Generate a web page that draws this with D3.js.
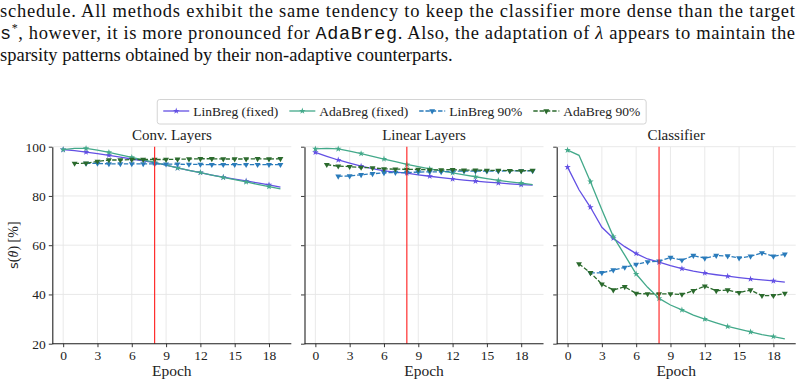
<!DOCTYPE html>
<html>
<head>
<meta charset="utf-8">
<script src="https://cdn.jsdelivr.net/npm/d3@7"></script>
<style>
  body { margin: 0; background: #fff; }
  svg { display: block; }
  text { font-family: "Liberation Serif", "Times New Roman", serif; fill: #222; }
  .tt { font-family: "Liberation Mono", "DejaVu Sans Mono", monospace; }
</style>
</head>
<body>
<svg id="page" width="805" height="385"></svg>
<script>
// paragraph lines above the figure
const paraLines = [
  [{ t: 'schedule. All methods exhibit the same tendency to keep the classifier more dense than the target' }],
  [{ t: 's', c: 'tt' }, { t: '*', sup: true }, { t: ', however, it is more pronounced for ' }, { t: 'AdaBreg', c: 'tt' },
   { t: '. Also, the adaptation of ' }, { t: 'λ', it: true }, { t: ' appears to maintain the' }],
  [{ t: 'sparsity patterns obtained by their non-adaptive counterparts.' }]
];

const epochs = d3.range(20);
const xTicks = [0, 3, 6, 9, 12, 15, 18];
const yTicks = [20, 40, 60, 80, 100];
const switchEpoch = 8;

const panelTitles = ['Conv. Layers', 'Linear Layers', 'Classifier'];
const seriesNames = ['LinBreg (fixed)', 'AdaBreg (fixed)', 'LinBreg 90%', 'AdaBreg 90%'];

// Conv. Layers
const convLinFixed = [98.8, 98.4, 97.8, 97.2, 96.5, 95.8, 95.0, 94.3, 93.5, 92.5, 91.4, 90.4, 89.5, 88.5, 87.6, 86.8, 86.1, 85.3, 84.5, 83.6];
const convAdaFixed = [98.8, 99.3, 99.3, 98.6, 97.7, 96.7, 95.7, 94.6, 93.6, 92.5, 91.4, 90.4, 89.5, 88.5, 87.5, 86.6, 85.7, 84.7, 83.8, 82.9];
const convLin90 = [null, null, 93.2, 93.2, 93.0, 93.0, 93.0, 93.0, 93.0, 92.9, 92.9, 92.8, 92.8, 92.7, 92.7, 92.7, 92.7, 92.7, 92.7, 92.7];
const convAda90 = [null, 93.2, 93.3, 94.0, 94.6, 94.6, 94.8, 94.8, 94.8, 94.8, 94.9, 95.0, 95.1, 95.1, 95.0, 95.0, 95.0, 95.1, 95.0, 95.1];

// Linear Layers
const linLinFixed = [97.7, 96.1, 94.6, 93.3, 92.1, 91.1, 90.2, 89.7, 89.3, 88.6, 88.0, 87.4, 86.9, 86.4, 86.0, 85.6, 85.3, 84.9, 84.6, 84.4];
const linAdaFixed = [99.1, 99.3, 99.1, 98.2, 97.2, 96.1, 95.0, 93.9, 92.8, 91.9, 91.0, 90.2, 89.4, 88.6, 87.8, 87.0, 86.3, 85.7, 85.2, 84.6];
const linLin90 = [null, null, 88.0, 88.1, 88.6, 89.0, 89.4, 89.5, 89.5, 89.7, 89.8, 89.8, 90.1, 90.1, 90.1, 90.1, 90.1, 90.2, 90.2, 90.2];
const linAda90 = [null, 92.7, 92.1, 91.9, 91.6, 91.4, 91.0, 90.9, 90.8, 90.8, 90.6, 90.6, 90.7, 90.5, 90.5, 90.4, 90.4, 90.3, 90.2, 90.4];

// Classifier
const clsLinFixed = [91.7, 82.5, 75.4, 67.3, 62.8, 59.4, 56.6, 54.4, 53.1, 51.7, 50.5, 49.5, 48.7, 48.0, 47.4, 46.8, 46.3, 45.9, 45.5, 45.0];
const clsAdaFixed = [98.6, 96.5, 85.8, 74.4, 63.5, 56.0, 48.3, 42.9, 38.4, 35.7, 33.7, 31.6, 30.0, 28.5, 27.0, 25.9, 24.8, 23.7, 22.9, 22.0];
const clsLin90 = [null, null, 48.8, 48.8, 49.9, 51.0, 52.2, 53.2, 53.5, 55.0, 53.9, 55.8, 54.7, 55.8, 55.6, 54.8, 55.5, 56.9, 55.5, 56.3];
const clsAda90 = [null, 52.4, 48.8, 44.2, 41.8, 43.1, 40.4, 40.2, 40.2, 40.2, 40.0, 41.5, 43.4, 41.5, 41.8, 40.7, 41.8, 39.5, 39.5, 40.4];

const panels = [
  [convLinFixed, convAdaFixed, convLin90, convAda90],
  [linLinFixed, linAdaFixed, linLin90, linAda90],
  [clsLinFixed, clsAdaFixed, clsLin90, clsAda90]
];

const styles = [
  { color: '#6350e4', dash: null, marker: 'star', every: 2 },
  { color: '#43a98a', dash: null, marker: 'star', every: 2 },
  { color: '#2a7bbb', dash: '4.4,1.9', marker: 'tri', every: 1 },
  { color: '#2b6a2d', dash: '4.4,1.9', marker: 'tri', every: 1 }
];

const svg = d3.select('#page');

// --- paragraph text
paraLines.forEach((line, i) => {
  const t = svg.append('text')
    .attr('x', 0)
    .attr('y', 16.5 + i * 22)
    .style('font-size', '18.5px')
    .style('fill', '#111');
  for (let part of line) {
    const ts = t.append('tspan').text(part.t);
    if (part.c) ts.attr('class', part.c);
    if (part.it) ts.style('font-style', 'italic');
    if (part.sup) ts.attr('dy', -7).style('font-size', '12px').attr('data-sup', 1);
  }
  // put baseline back after superscript
  t.selectAll('tspan').each(function (d, k, nodes) {
    if (k > 0 && nodes[k - 1].getAttribute('data-sup')) d3.select(this).attr('dy', 7);
  });
  if (i < 2) t.attr('textLength', 795).attr('lengthAdjust', 'spacing');
});

// --- figure geometry
const panelW = 239;
const plotTop = 146.7;
const plotBottom = 343.7;
const panelLeft = (i) => 52.3 + i * 252.2;

const y = d3.scaleLinear().domain([20, 100]).range([plotBottom, plotTop]);

function markerPath(kind) {
  if (kind === 'star') return d3.symbol().type(d3.symbolStar).size(13)();
  return d3.symbol().type(d3.symbolTriangle).size(15)();
}

panels.forEach((series, i) => {
  const left = panelLeft(i);
  const x = d3.scaleLinear().domain([-0.95, 19.95]).range([left, left + panelW]);
  const g = svg.append('g');

  // grid
  g.append('g').selectAll('line').data(xTicks).join('line')
    .attr('x1', d => x(d)).attr('x2', d => x(d))
    .attr('y1', plotTop).attr('y2', plotBottom)
    .attr('stroke', '#e6e6e6').attr('stroke-width', 0.9);
  g.append('g').selectAll('line').data(yTicks).join('line')
    .attr('x1', left).attr('x2', left + panelW)
    .attr('y1', d => y(d)).attr('y2', d => y(d))
    .attr('stroke', '#e6e6e6').attr('stroke-width', 0.9);

  // series
  series.forEach((vals, s) => {
    const st = styles[s];
    const pts = epochs.map(e => ({ e, v: vals[e] })).filter(d => d.v != null);
    const line = d3.line().x(d => x(d.e)).y(d => y(d.v));
    g.append('path')
      .datum(pts)
      .attr('d', line)
      .attr('fill', 'none')
      .attr('stroke', st.color)
      .attr('stroke-width', 1.3)
      .attr('stroke-dasharray', st.dash);
    g.append('g').selectAll('path')
      .data(pts.filter(d => d.e % st.every === 0))
      .join('path')
      .attr('d', markerPath(st.marker))
      .attr('transform', d => `translate(${x(d.e)},${y(d.v)})` + (st.marker === 'tri' ? ' rotate(180)' : ''))
      .attr('fill', st.color);
  });

  // switch epoch
  g.append('line')
    .attr('x1', x(switchEpoch)).attr('x2', x(switchEpoch))
    .attr('y1', plotTop).attr('y2', plotBottom)
    .attr('stroke', '#ff1a1a').attr('stroke-width', 1.1);

  // axes
  const xAxis = d3.axisBottom(x).tickValues(xTicks).tickSize(3.5).tickSizeOuter(0).tickPadding(3);
  const yAxis = d3.axisLeft(y).tickValues(yTicks).tickSize(3.5).tickSizeOuter(0).tickPadding(3)
    .tickFormat(i === 0 ? d3.format('d') : () => '');

  const gx = g.append('g').attr('transform', `translate(0,${plotBottom})`).call(xAxis);
  gx.select('.domain').attr('d', `M${left},0H${left + panelW}`);
  const gy = g.append('g').attr('transform', `translate(${left},0)`).call(yAxis);
  for (let ax of [gx, gy]) {
    ax.select('.domain').attr('stroke', '#222').attr('stroke-width', 1.1);
    ax.selectAll('.tick line').attr('stroke', '#222').attr('stroke-width', 0.9);
    ax.selectAll('.tick text')
      .style('font-family', '"Liberation Serif", serif')
      .style('font-size', '13.5px')
      .attr('fill', '#222');
  }

  // title and x label
  g.append('text')
    .attr('x', left + panelW / 2).attr('y', 140)
    .attr('text-anchor', 'middle')
    .style('font-size', '15px')
    .text(panelTitles[i]);
  g.append('text')
    .attr('x', left + panelW / 2).attr('y', 376)
    .attr('text-anchor', 'middle')
    .style('font-size', '15.5px')
    .text('Epoch');
});

// y label
const yl = svg.append('text')
  .attr('transform', `translate(18,${(plotTop + plotBottom) / 2}) rotate(-90)`)
  .attr('text-anchor', 'middle')
  .style('font-size', '14px');
yl.append('tspan').style('font-family', '"DejaVu Sans", sans-serif').style('font-size', '13px').text('s');
yl.append('tspan').text('(');
yl.append('tspan').style('font-style', 'italic').text('θ');
yl.append('tspan').text(')  [%]');

// legend
const leg = svg.append('g');
const legBox = leg.append('rect')
  .attr('y', 99.5).attr('height', 24.5).attr('rx', 2.5)
  .attr('fill', '#fff').attr('stroke', '#d4d4d4').attr('stroke-width', 1);
const items = [];
seriesNames.forEach((name, s) => {
  const st = styles[s];
  const it = leg.append('g');
  it.append('line')
    .attr('x1', 0).attr('x2', 26).attr('y1', 111).attr('y2', 111)
    .attr('stroke', st.color).attr('stroke-width', 1.3)
    .attr('stroke-dasharray', st.dash);
  it.append('path')
    .attr('d', markerPath(st.marker))
    .attr('transform', `translate(13,111)` + (st.marker === 'tri' ? ' rotate(180)' : ''))
    .attr('fill', st.color);
  const tx = it.append('text')
    .attr('x', 30).attr('y', 115.5)
    .style('font-size', '13.5px')
    .text(name);
  const w = 30 + tx.node().getComputedTextLength();
  items.push({ it, w });
});
const gap = 11;
const total = d3.sum(items, d => d.w) + gap * (items.length - 1);
const pad = 6;
const startX = 401.7 - total / 2;
let lx = startX;
for (let d of items) {
  d.it.attr('transform', `translate(${lx},0)`);
  lx += d.w + gap;
}
legBox.attr('x', startX - pad).attr('width', total + 2 * pad);
</script>
</body>
</html>
